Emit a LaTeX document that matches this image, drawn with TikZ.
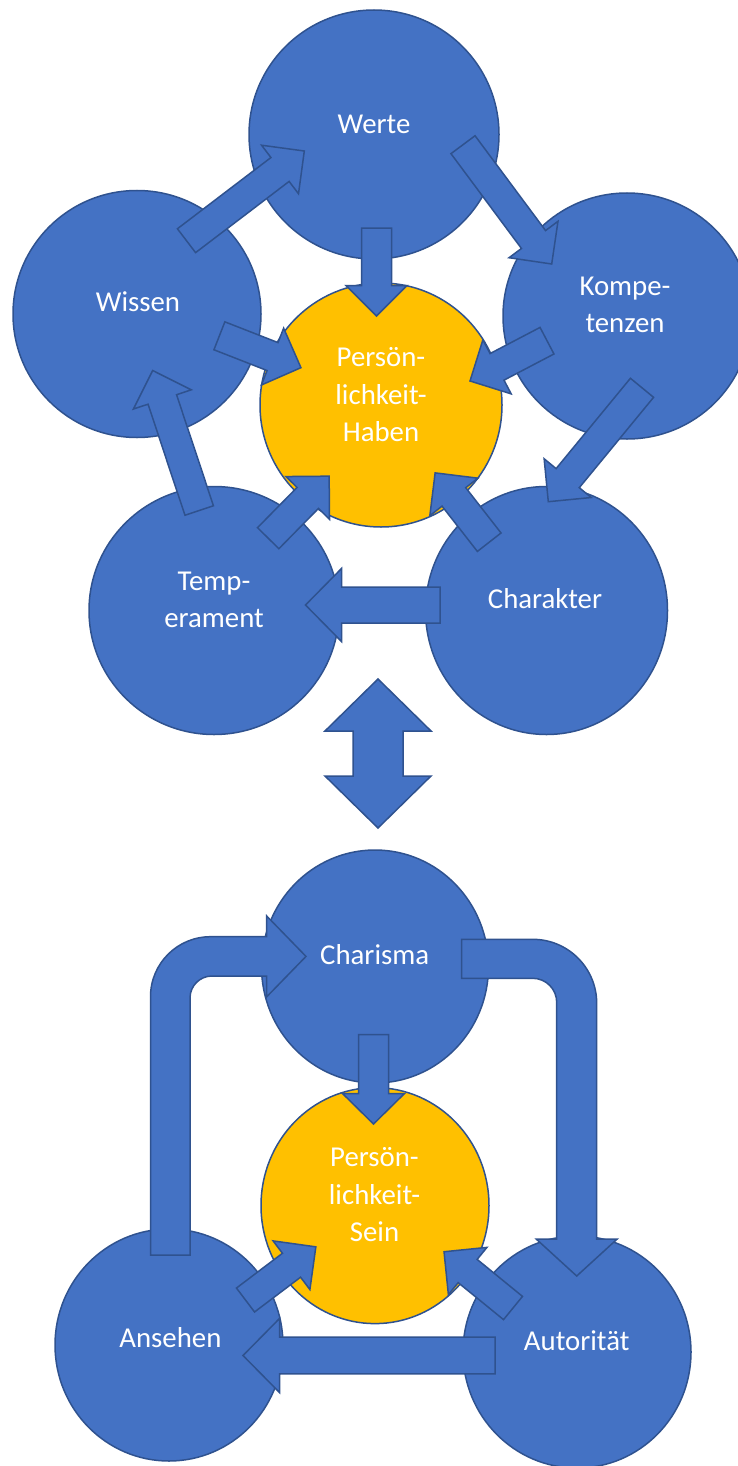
\documentclass[tikz,border=0pt]{standalone}
\usepackage{fontspec}
\setmainfont{Carlito}
\usetikzlibrary{shapes.geometric}
\definecolor{cblue}{HTML}{4472C4}
\definecolor{cline}{HTML}{2F528F}
\definecolor{cyel}{HTML}{FFC000}
\tikzset{
  circ/.style={ellipse, draw=cline, line width=1.5pt, fill=cblue, inner sep=0pt, outer sep=0pt},
  ycirc/.style={circ, fill=cyel},
  lbl/.style={text=white, font=\fontsize{28.8}{37.7}\selectfont, align=center, anchor=base, inner sep=0pt},
  blk/.style={draw=cline, fill=cblue, line width=1.5pt, line join=miter},
}
% block arrow: #1 tail, #2 tip, #3 half shaft width, #4 half head width, #5 head length
\newcommand\blockarr[5]{%
  \path (#1); \pgfgetlastxy{\bax}{\bay}%
  \path (#2); \pgfgetlastxy{\bbx}{\bby}%
  \pgfmathsetmacro\bang{atan2((\bby)-(\bay),(\bbx)-(\bax))}%
  \pgfmathsetmacro\blen{veclen((\bbx)-(\bax),(\bby)-(\bay))}%
  \pgfmathsetmacro\bneck{\blen-#5}%
  \begin{scope}[shift={(#1)},rotate=\bang]
    \draw[blk] (0pt,-#3pt) -- (\bneck pt,-#3pt) -- (\bneck pt,-#4pt) -- (\blen pt,0pt)
      -- (\bneck pt,#4pt) -- (\bneck pt,#3pt) -- (0pt,#3pt) -- cycle;
  \end{scope}%
}
\begin{document}
\begin{tikzpicture}[x=1pt,y=-1pt]
\useasboundingbox (0,0) rectangle (737,1466);
% ---------- upper part: circles
\node[circ, minimum width=250pt, minimum height=249pt] (werte) at (374,134.5) {};
\node[circ, minimum width=248pt, minimum height=247pt] (wissen) at (137,314) {};
\node[circ, minimum width=248pt, minimum height=246pt] (kompetenzen) at (627,316) {};
\node[ycirc, minimum width=242pt, minimum height=244pt] (haben) at (381,405) {};
\node[circ, minimum width=250pt, minimum height=248pt] (temperament) at (214,610.5) {};
\node[circ, minimum width=242pt, minimum height=248pt] (charakter) at (546.5,610.5) {};
% ---------- lower part: circles
\node[circ, minimum width=227pt, minimum height=233pt] (charisma) at (375,966.5) {};
\node[ycirc, minimum width=228pt, minimum height=236pt] (sein) at (375,1205.6) {};
\node[circ, minimum width=228pt, minimum height=232pt] (ansehen) at (169,1345) {};
\node[circ, minimum width=228pt, minimum height=232pt] (autoritaet) at (577,1352) {};
% ---------- arrow end points
\coordinate (a1s) at (186.5,240.7);  \coordinate (a1e) at (304.3,151);
\coordinate (a2s) at (463,144.7);    \coordinate (a2e) at (551.7,264);
\coordinate (a3s) at (376.5,228);    \coordinate (a3e) at (376.5,316);
\coordinate (a4s) at (219.4,335.8);  \coordinate (a4e) at (301,367.7);
\coordinate (a5s) at (547,340.7);    \coordinate (a5e) at (470,381);
\coordinate (a6s) at (642,387.8);    \coordinate (a6e) at (548.3,501.7);
\coordinate (a7s) at (199.2,510.5);  \coordinate (a7e) at (152.7,370.5);
\coordinate (a8s) at (268.2,538.2);  \coordinate (a8e) at (329.3,476);
\coordinate (a9s) at (489.2,542.2);  \coordinate (a9e) at (435,472.7);
\coordinate (a10s) at (440,605);     \coordinate (a10e) at (305.5,605);
\coordinate (b1s) at (373.5,1034.7); \coordinate (b1e) at (373.5,1124);
\coordinate (b2s) at (245.5,1300);   \coordinate (b2e) at (316,1246.7);
\coordinate (b3s) at (513,1308);     \coordinate (b3e) at (444,1251.7);
\coordinate (b4s) at (495,1355.5);   \coordinate (b4e) at (243,1355.5);
% ---------- upper arrows
\blockarr{a1s}{a1e}{15}{30.5}{30.5}
\blockarr{a2s}{a2e}{15}{30.5}{30.5}
\blockarr{a3s}{a3e}{15}{30.5}{30.5}
\blockarr{a4s}{a4e}{15}{30.5}{30.5}
\blockarr{a5s}{a5e}{15}{30.5}{30.5}
\blockarr{a6s}{a6e}{15}{30.5}{30.5}
\blockarr{a7s}{a7e}{15}{30.5}{30.5}
\blockarr{a8s}{a8e}{15}{30.5}{30.5}
\blockarr{a9s}{a9e}{15}{30.5}{30.5}
\blockarr{a10s}{a10e}{18}{36.5}{36}
% ---------- double arrow between the parts
\draw[blk] (378,679) -- (431,731) -- (403,731) -- (403,776) -- (431,776) -- (378,828)
  -- (325,776) -- (353,776) -- (353,731) -- (325,731) -- cycle;
% ---------- lower arrows
\blockarr{b1s}{b1e}{15}{31}{30.5}
\blockarr{b2s}{b2e}{15}{30.5}{30.5}
\blockarr{b3s}{b3e}{15}{30.5}{30.5}
\blockarr{b4s}{b4e}{18.3}{37}{36.5}
% bent arrow Ansehen -> Charisma
\draw[blk] (150.5,1255) -- (150.5,996.7) arc[start angle=180, end angle=270, radius=60]
  -- (266.7,936.7) -- (266.7,916) -- (306,956.4) -- (266.7,996.8) -- (266.7,976)
  -- (212,976) arc[start angle=270, end angle=180, radius=22] -- (190,1255) -- cycle;
% bent arrow Charisma -> Autoritaet
\draw[blk] (461.7,939.3) -- (532.7,939.3) arc[start angle=270, end angle=360, radius=64]
  -- (596.7,1239) -- (617.2,1239) -- (576.7,1276) -- (536.2,1239) -- (556.7,1239)
  -- (556.7,1002.3) arc[start angle=0, end angle=-90, radius=24] -- (461.7,978.3) -- cycle;
% ---------- labels (base = baseline of the last line)
\node[lbl] (tWerte) at (374,134) {Werte};
\node[lbl] (tWissen) at (138,311.7) {Wissen};
\node[lbl] (tKomp) at (625,332.7) {Kompe-\\tenzen};
\node[lbl] (tHaben) at (381,441.7) {Persön-\\lichkeit-\\Haben};
\node[lbl] (tTemp) at (214,627.7) {Temp-\\erament};
\node[lbl] (tChar) at (545,608.3) {Charakter};
\node[lbl] (tCharisma) at (374.7,964.7) {Charisma};
\node[lbl] (tSein) at (374.5,1241.7) {Persön-\\lichkeit-\\Sein};
\node[lbl] (tAns) at (170.4,1347) {Ansehen};
\node[lbl] (tAut) at (576.7,1350) {Autorität};
\end{tikzpicture}
\end{document}
